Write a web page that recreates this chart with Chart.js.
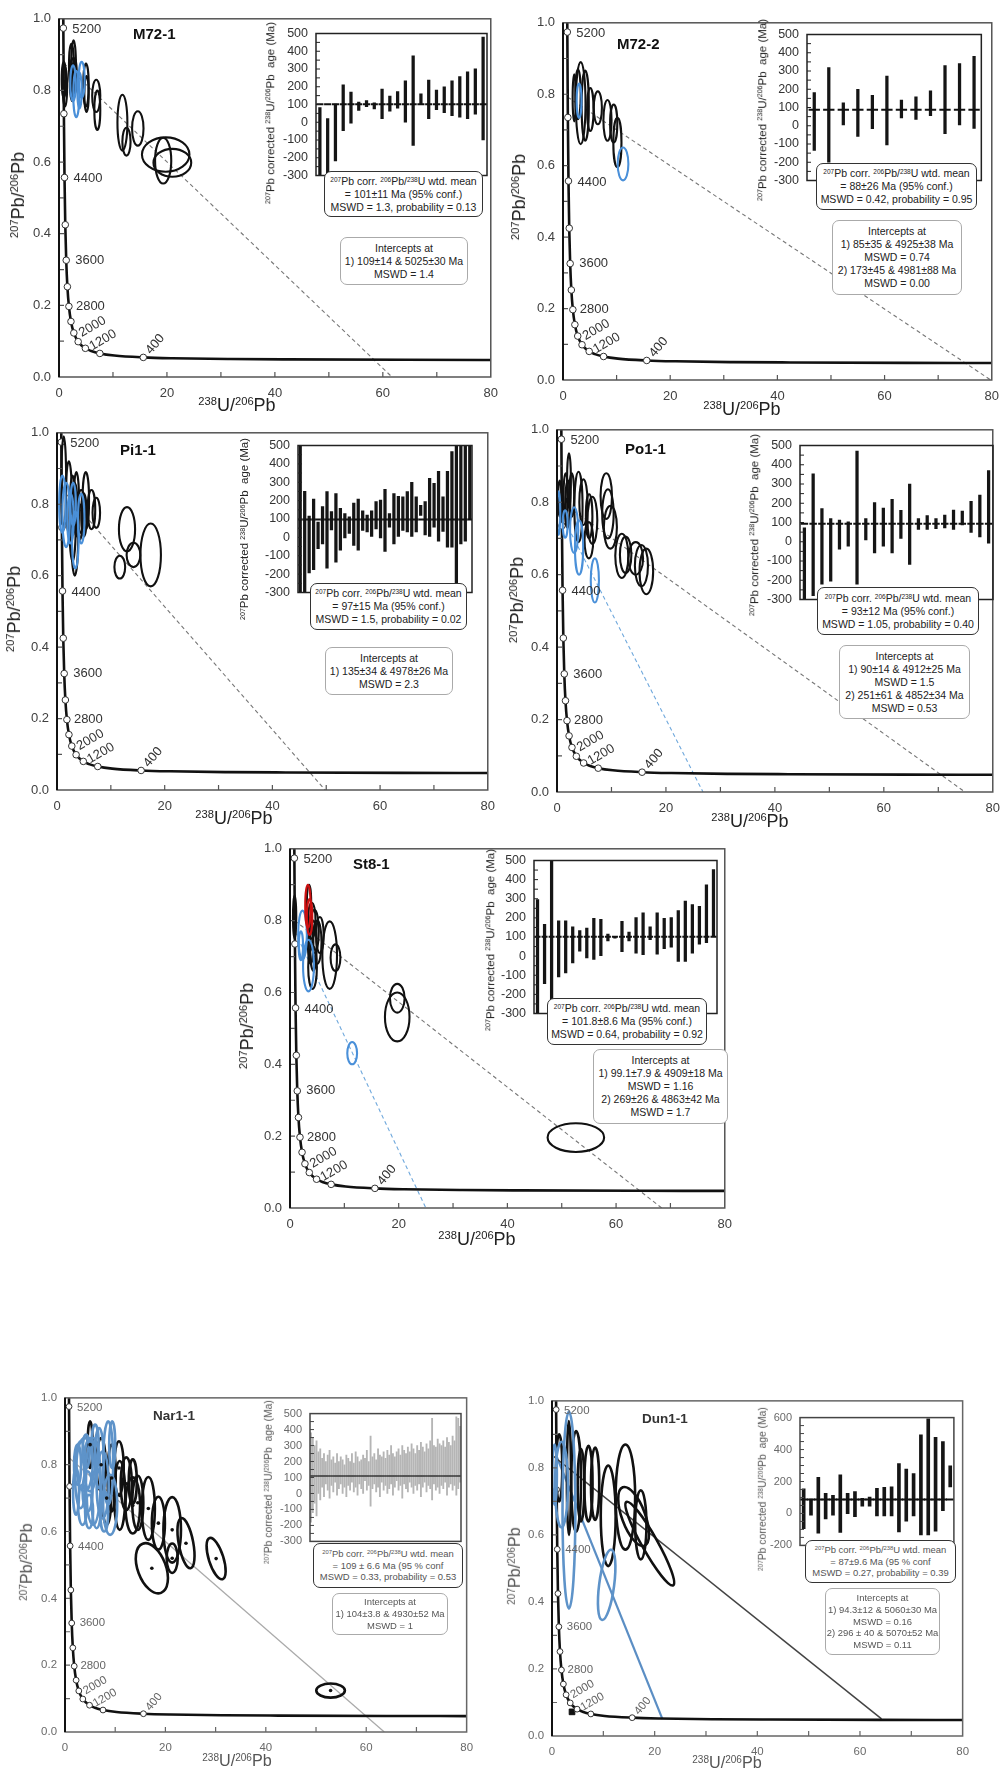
<!DOCTYPE html>
<html lang="en">
<head>
<meta charset="utf-8">
<title>Tera-Wasserburg concordia plots</title>
<script src="https://cdn.jsdelivr.net/npm/chart.js@4.4.1/dist/chart.umd.min.js"></script>
<style>
  body { margin: 0; background: #fff; }
  #page { position: relative; width: 1008px; height: 1780px; overflow: hidden; font-family: "Liberation Sans", Arial, sans-serif; }
  .panel { position: absolute; left: 0; top: 0; width: 1008px; height: 1780px; }
  .panel.soft { filter: blur(0.5px); }
  canvas { position: absolute; }
  .title { position: absolute; white-space: nowrap; line-height: 1; color: #222; }
  .name { position: absolute; font-weight: bold; white-space: nowrap; transform: translateY(-50%); color: #111; }
  .box { position: absolute; box-sizing: border-box; background: #fff; border: 1.5px solid #333; border-radius: 7px;
         display: flex; flex-direction: column; justify-content: center; align-items: center; white-space: nowrap; color: #222; }
  .box.icpt { border: 1.2px solid #aaa; }
  sup { font-size: 0.62em; line-height: 0; vertical-align: 0.5em; }
</style>
</head>
<body>
<div id="page"></div>
<script>
const FONT = '"Liberation Sans", Arial, sans-serif';

// Tera-Wasserburg concordia, ordered by increasing 238U/206Pb
const concordiaX = [0.763, 0.806, 0.905, 1.022, 1.163, 1.337, 1.556, 1.838, 2.217, 2.749, 3.550, 4.888, 5.959, 7.568, 10.25, 15.62, 20.99, 31.74, 42.48, 63.97, 80.08];
const concordiaY = [1.123, 0.974, 0.735, 0.557, 0.425, 0.326, 0.252, 0.197, 0.155, 0.123, 0.0987, 0.0801, 0.0725, 0.0658, 0.0599, 0.0547, 0.0523, 0.0501, 0.0491, 0.0480, 0.0476];

// age ticks on the concordia (Ma)
const markerAges = [5200, 4800, 4400, 4000, 3600, 3200, 2800, 2400, 2000, 1600, 1200, 800, 400];
const markerX = [0.806, 0.905, 1.022, 1.163, 1.337, 1.556, 1.838, 2.217, 2.749, 3.550, 4.888, 7.568, 15.62];
const markerY = [0.974, 0.735, 0.557, 0.425, 0.326, 0.252, 0.197, 0.155, 0.123, 0.0987, 0.0801, 0.0658, 0.0547];

// error ellipses: [238U/206Pb, 207Pb/206Pb, sx, sy, rho]
// discordia: [[x, y], [x, y]]
// inset ages: [low, high] in Ma

// ---- M72-1
const m721Black = [[0.9, 0.83, 0.4, 0.05, 0], [1.1, 0.81, 0.4, 0.055, 0], [2.3, 0.87, 0.45, 0.06, 0], [2.7, 0.86, 0.45, 0.08, 0],
  [2.5, 0.83, 0.5, 0.06, 0], [2.9, 0.84, 0.4, 0.05, 0], [5.0, 0.815, 0.5, 0.06, 0], [5.1, 0.79, 0.4, 0.05, 0],
  [6.9, 0.785, 0.75, 0.045, 0], [7.1, 0.745, 0.55, 0.055, 0], [11.75, 0.71, 0.92, 0.078, 0], [12.5, 0.657, 0.76, 0.039, 0],
  [14.6, 0.694, 1.06, 0.048, 0], [19.77, 0.621, 4.4, 0.048, 0], [19.3, 0.604, 1.5, 0.064, 0], [21.0, 0.598, 3.5, 0.039, 0]];
const m721Blue = [[2.6, 0.82, 0.5, 0.05, 0], [3.2, 0.79, 0.55, 0.065, 0], [4.2, 0.83, 0.55, 0.05, 0], [3.8, 0.8, 0.4, 0.05, 0]];
const m721Discordia = [[0.86, 0.876], [61.7, 0]];
const m721Ages = [[-340, 82], [-300, 20], [-218, 102], [-48, 211], [-5, 170], [66, 114], [88, 122], [75, 110], [20, 187], [62, 147], [80, 173],
  [0, 233], [-130, 374], [105, 160], [20, 237], [71, 181], [54, 199], [37, 233], [29, 258], [20, 284], [46, 301], [-99, 480]];
const m721Mean = 101;

// ---- M72-2
const m722Black = [[2.1, 0.79, 0.3, 0.066, 0], [2.8, 0.8, 0.5, 0.07, 0], [3.3, 0.775, 0.9, 0.115, 0], [4.15, 0.768, 0.67, 0.098, 0],
  [5.1, 0.757, 0.6, 0.06, 0], [6.5, 0.762, 0.76, 0.046, 0], [8.3, 0.727, 0.76, 0.057, 0], [9.46, 0.718, 0.67, 0.053, 0], [10.15, 0.665, 0.76, 0.069, 0]];
const m722Blue = [[3.0, 0.782, 0.45, 0.048, 0], [11.2, 0.605, 1.0, 0.046, 0]];
const m722Discordia = [[0.87, 0.792], [79.8, 0]];
const m722Ages = [[-135, 182], [-200, 319], [5, 126], [-58, 200], [-16, 167], [-105, 272], [43, 140], [35, 159], [55, 192], [-44, 330], [5, 340], [-15, 381]];
const m722Mean = 88;

// ---- Pi1-1
const pi11Black = [[1.25, 0.86, 0.45, 0.13, 0], [2.2, 0.82, 0.55, 0.1, 0], [2.9, 0.76, 0.6, 0.12, 0], [3.3, 0.73, 0.65, 0.13, 0],
  [3.6, 0.8, 0.5, 0.09, 0], [4.2, 0.75, 0.5, 0.05, 0], [4.5, 0.78, 0.7, 0.06, 0], [5.0, 0.77, 0.5, 0.06, 0], [5.35, 0.81, 0.6, 0.08, 0],
  [6.4, 0.785, 0.7, 0.055, 0], [7.3, 0.776, 0.7, 0.042, 0], [13.0, 0.73, 1.5, 0.062, 0], [14.2, 0.658, 1.27, 0.034, 0],
  [11.66, 0.624, 1.0, 0.032, 0], [17.4, 0.658, 1.9, 0.088, 0]];
const pi11Blue = [[1.0, 0.8, 0.6, 0.08, 0], [1.7, 0.77, 0.7, 0.09, 0], [2.5, 0.76, 0.6, 0.07, 0], [3.4, 0.7, 0.6, 0.08, 0],
  [4.5, 0.76, 0.6, 0.07, 0], [3.0, 0.8, 0.5, 0.06, 0]];
const pi11Discordia = [[0.86, 0.843], [49.8, 0]];
const pi11Ages = [[-320, 510], [-320, 250], [-193, 116], [-176, 208], [-61, 83], [-36, 167], [-168, 249], [40, 140], [-135, 239], [-69, 158],
  [-3, 129], [22, 112], [-44, 187], [-69, 208], [38, 145], [30, 121], [5, 145], [46, 195], [-3, 203], [-77, 261], [55, 129], [-36, 239],
  [5, 223], [38, 220], [30, 249], [5, 299], [30, 220], [120, 175], [13, 195], [5, 322], [55, 294], [-20, 360], [33, 220], [-53, 360],
  [-53, 467], [-320, 520], [-36, 520], [-20, 520], [96, 520]];
const pi11Mean = 97;

// ---- Po1-1
const po11Black = [[0.5, 0.81, 0.3, 0.05, 0], [1.6, 0.82, 0.4, 0.06, 0], [2.0, 0.8, 0.45, 0.06, 0], [2.2, 0.86, 0.35, 0.075, 0],
  [2.7, 0.82, 0.45, 0.06, 0], [1.9, 0.77, 0.4, 0.04, 0], [3.94, 0.787, 0.75, 0.097, 0], [4.85, 0.8, 0.75, 0.063, 0],
  [5.9, 0.761, 0.6, 0.061, 0], [5.85, 0.695, 0.8, 0.05, 0], [6.5, 0.75, 0.9, 0.065, 0], [9.05, 0.817, 1.05, 0.063, 0],
  [9.35, 0.768, 1.05, 0.068, 0], [9.8, 0.731, 1.2, 0.059, 0], [11.9, 0.652, 1.2, 0.061, 0], [12.6, 0.655, 1.05, 0.05, 0],
  [14.45, 0.645, 1.35, 0.045, 0], [15.5, 0.625, 1.2, 0.057, 0], [16.4, 0.609, 1.25, 0.063, 0]];
const po11Blue = [[0.3, 0.77, 0.3, 0.06, 0], [1.5, 0.74, 0.45, 0.038, 0], [3.15, 0.723, 0.75, 0.063, 0], [4.05, 0.675, 0.75, 0.075, 0],
  [6.95, 0.584, 0.75, 0.061, 0]];
const po11Discordia = [[0.88, 0.80], [74.9, 0]];
const po11DiscordiaBlue = [[0.89, 0.765], [26.8, 0]];
const po11Ages = [[-320, 72], [-280, 353], [-220, 172], [-205, 120], [-39, 112], [-23, 104], [-220, 471], [9, 120], [-58, 204], [-23, 175],
  [-58, 220], [17, 163], [-118, 299], [64, 120], [64, 136], [68, 120], [72, 139], [64, 164], [88, 159], [49, 210], [25, 242], [-7, 370]];
const po11Mean = 93;

// ---- St8-1
const st81Black = [[0.85, 0.81, 0.3, 0.06, 0], [3.5, 0.85, 0.4, 0.05, 0], [4.0, 0.8, 0.7, 0.05, 0], [4.5, 0.77, 0.8, 0.06, 0],
  [5.0, 0.74, 0.8, 0.06, 0], [4.3, 0.73, 0.6, 0.07, 0], [5.5, 0.76, 0.7, 0.05, 0], [3.8, 0.74, 0.5, 0.06, 0], [4.15, 0.67, 0.8, 0.06, 0],
  [7.3, 0.704, 1.35, 0.094, 0], [8.37, 0.697, 0.9, 0.037, 0], [19.73, 0.532, 2.26, 0.068, 0], [19.74, 0.584, 1.35, 0.04, 0],
  [52.6, 0.196, 5.2, 0.04, 0]];
const st81Red = [[3.3, 0.84, 0.5, 0.06, 0], [3.6, 0.81, 0.5, 0.05, 0]];
const st81Blue = [[2.3, 0.76, 0.8, 0.068, 0], [3.4, 0.675, 1.0, 0.072, 0], [2.0, 0.73, 0.4, 0.04, 0], [11.44, 0.431, 0.9, 0.031, 0]];
const st81Discordia = [[0.88, 0.80], [68.4, 0]];
const st81DiscordiaBlue = [[0.89, 0.77], [25.0, 0]];
const st81Ages = [[-320, 296], [-144, 166], [-250, 520], [-109, 185], [-88, 185], [-36, 153], [26, 134], [-9, 147], [-17, 198], [2, 193],
  [79, 115], [94, 102], [23, 182], [79, 126], [15, 201], [7, 226], [86, 153], [10, 226], [39, 198], [47, 201], [-28, 238], [-28, 288],
  [15, 269], [63, 261], [71, 373], [102, 452]];
const st81Mean = 101.8;

// ---- Nar1-1
const nar11Black = [[5.0, 0.86, 0.5, 0.07, 0], [7.2, 0.8, 0.9, 0.08, 0], [9.3, 0.76, 0.8, 0.1, 0], [8.3, 0.7, 0.9, 0.08, 0],
  [10.75, 0.79, 0.95, 0.08, 0], [10.9, 0.708, 1.1, 0.103, 0], [12.2, 0.743, 1.1, 0.079, 0], [13.5, 0.75, 0.8, 0.066, 0],
  [13.5, 0.678, 1.45, 0.084, 0], [14.5, 0.686, 1.1, 0.081, 0], [16.6, 0.669, 1.3, 0.094, 0], [18.6, 0.625, 1.3, 0.079, 0],
  [21.35, 0.605, 1.75, 0.098, 0], [24.1, 0.565, 1.7, 0.075, -0.5], [17.3, 0.49, 3.2, 0.075, -0.4], [21.35, 0.52, 1.1, 0.044, 0],
  [30.1, 0.519, 1.9, 0.062, -0.6], [52.9, 0.124, 2.85, 0.021, 0]];
const nar11Blue = [[2.5, 0.8, 0.7, 0.06, 0], [3.1, 0.77, 1.1, 0.1, 0], [3.9, 0.8, 1.6, 0.08, 0], [4.5, 0.72, 1.0, 0.06, 0],
  [5.0, 0.8, 1.2, 0.08, 0], [5.6, 0.75, 1.5, 0.13, 0], [6.3, 0.7, 1.0, 0.09, 0], [7.5, 0.74, 1.2, 0.1, 0],
  [8.6, 0.805, 1.0, 0.125, 0], [9.0, 0.68, 1.4, 0.09, 0], [2.2, 0.72, 0.6, 0.07, 0], [3.5, 0.68, 0.9, 0.06, 0],
  [6.8, 0.82, 0.9, 0.09, 0], [7.8, 0.66, 0.8, 0.06, 0], [4.8, 0.66, 0.8, 0.05, 0], [6.0, 0.86, 0.7, 0.06, 0],
  [9.4, 0.86, 0.6, 0.07, 0], [4.2, 0.84, 0.7, 0.05, 0]];
const nar11Discordia = [[0.87, 0.82], [63.6, 0]];
const nar11Ages = [[-180, 380], [-120, 350], [-60, 300], [-140, 330], [0, 260], [-40, 280], [40, 220], [-20, 250], [60, 200], [20, 240],
  [-30, 270], [50, 210], [10, 230], [70, 190], [-10, 250], [30, 200], [60, 230], [0, 210], [40, 180], [-20, 240],
  [50, 220], [20, 200], [70, 250], [10, 190], [40, 260], [-10, 230], [60, 200], [30, 210], [0, 240], [80, 220],
  [20, 270], [50, 200], [-80, 360], [30, 230], [60, 250], [10, 210], [40, 280], [-20, 240], [70, 230], [20, 260],
  [50, 220], [0, 270], [30, 240], [60, 300], [-10, 250], [40, 230], [80, 260], [20, 280], [50, 240], [-30, 300],
  [60, 270], [30, 250], [10, 290], [70, 260], [40, 310], [0, 280], [50, 250], [20, 300], [60, 270], [-20, 320],
  [40, 290], [70, 260], [10, 310], [50, 280], [30, 330], [-40, 470], [60, 300], [20, 290], [40, 340], [0, 310],
  [50, 300], [30, 330], [70, 290], [-10, 350], [40, 320], [60, 300], [20, 360], [50, 330], [-10, 480], [30, 470], [70, 420]];
const nar11Mean = 109;

// ---- Dun1-1
const dun11Black = [[1.4, 0.8, 0.6, 0.1, 0], [3.3, 0.77, 0.4, 0.17, 0], [4.7, 0.76, 0.95, 0.15, 0], [5.65, 0.748, 0.65, 0.108, 0],
  [7.1, 0.753, 0.8, 0.113, 0], [8.4, 0.753, 0.8, 0.108, 0], [10.95, 0.657, 1.45, 0.15, 0], [14.3, 0.713, 1.9, 0.157, 0],
  [15.9, 0.655, 3.0, 0.088, -0.6], [17.3, 0.63, 1.1, 0.103, 0], [19.05, 0.574, 4.75, 0.125, -0.93]];
const dun11Blue = [[0.5, 0.78, 0.45, 0.09, 0], [1.85, 0.75, 1.25, 0.128, 0], [3.3, 0.674, 1.25, 0.294, 0], [10.65, 0.451, 1.7, 0.105, 0.5]];
const dun11Discordia = [[0, 0.838], [64.2, 0.051]];
const dun11DiscordiaBlue = [[0.9, 0.834], [21.5, 0.051]];
const dun11Square = [[3.9, 0.072]];
const dun11Ages = [[-96, 154], [-11, 90], [-124, 226], [-35, 126], [-11, 113], [-119, 242], [-1, 126], [-20, 137], [46, 94], [46, 103],
  [-16, 158], [-16, 164], [-16, 166], [-115, 312], [-48, 278], [-16, 249], [-134, 492], [-134, 592], [-111, 477], [18, 450], [166, 298]];
const dun11Mean = 87;

const wtdHead = '<sup>207</sup>Pb corr. <sup>206</sup>Pb/<sup>238</sup>U wtd. mean';
const insetTitle = '<sup>207</sup>Pb corrected <sup>238</sup>U/<sup>206</sup>Pb&nbsp; age (Ma)';

const dashed = { color: '#777', width: 1.1, dash: [4, 3] };
const dashedBlue = { color: '#6fa8dc', width: 1.1, dash: [4, 3] };

const samples = [
  { name: 'M72-1', black: m721Black, blue: m721Blue, discordia: m721Discordia, ages: m721Ages, mean: m721Mean,
    wtd: ['= 101±11 Ma (95% conf.)', 'MSWD = 1.3, probability = 0.13'],
    icpt: ['Intercepts at', '1) 109±14 &amp; 5025±30 Ma', 'MSWD = 1.4'],
    plot: [59, 13, 440, 364], inset: [316, 26, 174, 157], box1: [324, 171, 159, 46], box2: [340, 237, 128, 48],
    nameAt: [133, 33], yTitle: [18, 195], xTitle: [237, 405], insetTitleAt: [271, 113], seg: 0.45 },
  { name: 'M72-2', black: m722Black, blue: m722Blue, discordia: m722Discordia, ages: m722Ages, mean: m722Mean,
    wtd: ['= 88±26 Ma (95% conf.)', 'MSWD = 0.42, probability = 0.95'],
    icpt: ['Intercepts at', '1) 85±35 &amp; 4925±38 Ma', 'MSWD = 0.74', '2) 173±45 &amp; 4981±88 Ma', 'MSWD = 0.00'],
    plot: [563, 17, 437, 363], inset: [807, 27, 179, 161], box1: [816, 163, 161, 47], box2: [832, 220, 130, 75],
    nameAt: [617, 43], yTitle: [519, 197], xTitle: [742, 409], insetTitleAt: [763, 110], seg: 0.38 },
  { name: 'Pi1-1', black: pi11Black, blue: pi11Blue, discordia: pi11Discordia, ages: pi11Ages, mean: pi11Mean,
    wtd: ['= 97±15 Ma (95% conf.)', 'MSWD = 1.5, probability = 0.02'],
    icpt: ['Intercepts at', '1) 135±34 &amp; 4978±26 Ma', 'MSWD = 2.3'],
    plot: [57, 427, 439, 363], inset: [298, 438, 177, 162], box1: [310, 583, 157, 47], box2: [325, 647, 128, 48],
    nameAt: [120, 449], yTitle: [14, 609], xTitle: [234, 818], insetTitleAt: [245, 529], seg: 0.5 },
  { name: 'Po1-1', black: po11Black, blue: po11Blue, discordia: po11Discordia, discordiaBlue: po11DiscordiaBlue, ages: po11Ages, mean: po11Mean,
    wtd: ['= 93±12 Ma (95% conf.)', 'MSWD = 1.05, probability = 0.40'],
    icpt: ['Intercepts at', '1) 90±14 &amp; 4912±25 Ma', 'MSWD = 1.5', '2) 251±61 &amp; 4852±34 Ma', 'MSWD = 0.53'],
    plot: [557, 424, 444, 368], inset: [800, 438, 196, 169], box1: [817, 587, 162, 48], box2: [839, 645, 131, 74],
    nameAt: [625, 448], yTitle: [517, 600], xTitle: [750, 821], insetTitleAt: [755, 525], seg: 0.42 },
  { name: 'St8-1', black: st81Black, blue: st81Blue, red: st81Red, discordia: st81Discordia, discordiaBlue: st81DiscordiaBlue, ages: st81Ages, mean: st81Mean,
    wtd: ['= 101.8±8.6 Ma (95% conf.)', 'MSWD = 0.64, probability = 0.92'],
    icpt: ['Intercepts at', '1) 99.1±7.9 &amp; 4909±18 Ma', 'MSWD = 1.16', '2) 269±26 &amp; 4863±42 Ma', 'MSWD = 1.7'],
    plot: [290, 843, 443, 365], inset: [534, 853, 186, 168], box1: [547, 998, 160, 47], box2: [593, 1049, 135, 75],
    nameAt: [353, 863], yTitle: [247, 1026], xTitle: [477, 1239], insetTitleAt: [491, 940], seg: 0.42 },
  { name: 'Nar1-1', black: nar11Black, blue: nar11Blue, discordia: nar11Discordia, ages: nar11Ages, mean: nar11Mean,
    wtd: ['= 109 ± 6.6 Ma (95 % conf', 'MSWD = 0.33, probability = 0.53'],
    icpt: ['Intercepts at', '1) 104±3.8 &amp; 4930±52 Ma', 'MSWD = 1'],
    plot: [65, 1393, 409, 339], inset: [310, 1407, 154, 141], box1: [313, 1543, 150, 45], box2: [332, 1593, 116, 42],
    nameAt: [153, 1415], yTitle: [26, 1562], xTitle: [237, 1760], insetTitleAt: [269, 1482], seg: 0.6,
    soft: true, dots: true, solidLine: { color: '#aaa', width: 1.3 }, greyBars: true },
  { name: 'Dun1-1', black: dun11Black, blue: dun11Blue, discordia: dun11Discordia, discordiaBlue: dun11DiscordiaBlue, square: dun11Square,
    ages: dun11Ages, mean: dun11Mean,
    wtd: ['= 87±9.6 Ma (95 % conf', 'MSWD = 0.27, probability = 0.39'],
    icpt: ['Intercepts at', '1) 94.3±12 &amp; 5060±30 Ma', 'MSWD = 0.16', '2) 296 ± 40 &amp; 5070±52 Ma', 'MSWD = 0.11'],
    plot: [552, 1396, 418, 340], inset: [800, 1411, 157, 141], box1: [805, 1540, 151, 43], box2: [825, 1588, 115, 67],
    nameAt: [642, 1418], yTitle: [514, 1566], xTitle: [727, 1762], insetTitleAt: [763, 1489], seg: 0.55,
    soft: true, solidLine: { color: '#444', width: 1.5 }, solidBlue: { color: '#5b8ec4', width: 2.2 },
    ageRange: [-200, 600, 200] },
];

// offsets (px) and rotation (deg) of the labelled concordia ages
const ageLabelStyle = { 5200: [9, 1, 0], 4400: [9, 1, 0], 3600: [9, 0, 0], 2800: [7, 0, 0], 2000: [6, 1, -30], 1200: [5, -1, -30], 400: [5, -5, -50] };

const page = document.getElementById('page');

function makeCanvas(parent, l, t, w, h) {
  const c = document.createElement('canvas');
  c.width = w;
  c.height = h;
  c.style.cssText = `left:${l}px;top:${t}px;width:${w}px;height:${h}px`;
  parent.appendChild(c);
  return c;
}

function addHtml(parent, cls, html, css) {
  const d = document.createElement('div');
  d.className = cls;
  d.innerHTML = html;
  d.style.cssText = css;
  parent.appendChild(d);
  return d;
}

function lineSet(points, style) {
  return {
    data: points.map(([x, y]) => ({ x, y })),
    showLine: true,
    borderColor: style.color,
    borderWidth: style.width,
    borderDash: style.dash || [],
    pointRadius: 0,
  };
}

function ellipsePath(ctx, xs, ys, e) {
  const [cx, cy, sx, sy, rho] = e;
  const px = xs.getPixelForValue(cx);
  const py = ys.getPixelForValue(cy);
  const a = Math.abs(xs.getPixelForValue(cx + sx) - px);
  const b = Math.abs(ys.getPixelForValue(cy + sy) - py);
  // covariance in screen space (y points down, so the correlation flips)
  const c = -rho * a * b;
  const m = (a * a + b * b) / 2;
  const d = Math.sqrt(((a * a - b * b) / 2) ** 2 + c * c);
  const r1 = Math.sqrt(m + d);
  const r2 = Math.sqrt(Math.max(m - d, 0.05));
  const theta = 0.5 * Math.atan2(2 * c, a * a - b * b);
  ctx.beginPath();
  ctx.ellipse(px, py, r1, r2, theta, 0, 2 * Math.PI);
}

function ellipsePlugin(s, fs) {
  return {
    id: 'ellipses',
    afterDatasetsDraw(chart) {
      const { ctx, chartArea: a, scales: { x, y } } = chart;
      ctx.save();
      ctx.beginPath();
      ctx.rect(a.left, a.top, a.right - a.left, a.bottom - a.top);
      ctx.clip();
      ctx.lineWidth = s.soft ? 2.6 : 2.1;
      const groups = [
        [s.black, '#111'],
        [s.blue || [], s.soft ? '#5e93c9' : '#4a90d9'],
        [s.red || [], '#cc1010'],
      ];
      groups.forEach(([list, color]) => {
        ctx.strokeStyle = color;
        list.forEach((e) => {
          ellipsePath(ctx, x, y, e);
          ctx.stroke();
        });
      });
      if (s.dots) {
        ctx.fillStyle = '#111';
        s.black.forEach(([cx, cy]) => {
          ctx.beginPath();
          ctx.arc(x.getPixelForValue(cx), y.getPixelForValue(cy), 1.8, 0, 2 * Math.PI);
          ctx.fill();
        });
      }
      ctx.restore();

      // concordia age labels
      ctx.save();
      ctx.fillStyle = s.soft ? '#666' : '#333';
      ctx.font = `${13 * fs}px ${FONT}`;
      ctx.textBaseline = 'middle';
      ctx.textAlign = 'left';
      markerAges.forEach((age, i) => {
        const st = ageLabelStyle[age];
        if (!st) return;
        ctx.save();
        ctx.translate(x.getPixelForValue(markerX[i]) + st[0] * fs, y.getPixelForValue(markerY[i]) + st[1] * fs);
        ctx.rotate((st[2] * Math.PI) / 180);
        ctx.fillText(String(age), 0, 0);
        ctx.restore();
      });
      ctx.restore();
    },
  };
}

function framePlugin(s) {
  return {
    id: 'frame',
    afterDraw(chart) {
      const { ctx, chartArea: a, scales: { x, y } } = chart;
      ctx.save();
      ctx.strokeStyle = s.soft ? '#666' : '#555';
      ctx.lineWidth = 1.5;
      ctx.strokeRect(a.left, a.top, a.right - a.left, a.bottom - a.top);
      ctx.lineWidth = 1.2;
      ctx.beginPath();
      for (let i = 1; i < 8; i++) {
        const px = x.getPixelForValue(i * 10);
        ctx.moveTo(px, a.bottom);
        ctx.lineTo(px, a.bottom - 5);
      }
      for (let i = 1; i < 10; i++) {
        const py = y.getPixelForValue(i / 10);
        ctx.moveTo(a.left, py);
        ctx.lineTo(a.left + 5, py);
      }
      ctx.stroke();
      ctx.strokeStyle = '#111';
      ctx.lineWidth = 2;
      ctx.beginPath();
      ctx.moveTo(a.left, a.top);
      ctx.lineTo(a.left, a.bottom);
      ctx.stroke();
      ctx.restore();
    },
  };
}

function drawConcordia(s, parent) {
  const [l, t, w, h] = s.plot;
  const fs = s.soft ? 0.88 : 1;
  const ink = s.soft ? '#6a6a6a' : '#404040';
  const canvas = makeCanvas(parent, l - 48, t - 10, w + 56, h + 36);

  const datasets = [
    {
      data: markerX.map((x, i) => ({ x, y: markerY[i] })),
      pointRadius: 3.3 * fs,
      pointBackgroundColor: '#fff',
      pointBorderColor: '#333',
      pointBorderWidth: 1,
    },
  ];
  if (s.square) {
    datasets.push({
      data: s.square.map(([x, y]) => ({ x, y })),
      pointStyle: 'rect',
      pointRadius: 4,
      pointBackgroundColor: '#111',
      pointBorderColor: '#111',
    });
  }
  datasets.push({
    data: concordiaX.map((x, i) => ({ x, y: concordiaY[i] })),
    showLine: true,
    cubicInterpolationMode: 'monotone',
    borderColor: '#111',
    borderWidth: 2.6,
    pointRadius: 0,
  });
  if (s.discordia) datasets.push(lineSet(s.discordia, s.solidLine || dashed));
  if (s.discordiaBlue) datasets.push(lineSet(s.discordiaBlue, s.solidBlue || dashedBlue));

  new Chart(canvas, {
    type: 'scatter',
    data: { datasets },
    options: {
      animation: false,
      responsive: false,
      events: [],
      layout: { padding: { top: 10, right: 8 } },
      plugins: { legend: { display: false }, tooltip: { enabled: false } },
      scales: {
        x: {
          type: 'linear',
          min: 0,
          max: 80,
          grid: { display: false, drawTicks: false },
          border: { display: false },
          ticks: { stepSize: 20, color: ink, font: { family: FONT, size: 13 * fs }, padding: 9, maxRotation: 0 },
          afterFit: (sc) => { sc.height = 26; },
        },
        y: {
          type: 'linear',
          min: 0,
          max: 1,
          grid: { display: false, drawTicks: false },
          border: { display: false },
          ticks: { stepSize: 0.2, color: ink, font: { family: FONT, size: 13 * fs }, padding: 8, callback: (v) => v.toFixed(1) },
          afterFit: (sc) => { sc.width = 48; },
        },
      },
    },
    plugins: [ellipsePlugin(s, fs), framePlugin(s)],
  });
}

function insetFrame(s, min, max) {
  return {
    id: 'insetFrame',
    afterDraw(chart) {
      const { ctx, chartArea: a, scales: { y } } = chart;
      ctx.save();
      ctx.strokeStyle = s.soft ? '#444' : '#222';
      ctx.lineWidth = 1.5;
      ctx.strokeRect(a.left, a.top, a.right - a.left, a.bottom - a.top);
      ctx.lineWidth = 1;
      ctx.beginPath();
      for (let v = min + 50; v < max; v += 50) {
        const py = y.getPixelForValue(v);
        ctx.moveTo(a.left, py);
        ctx.lineTo(a.left + 4, py);
      }
      ctx.stroke();
      ctx.restore();
    },
  };
}

function drawInset(s, parent) {
  const [l, t, w, h] = s.inset;
  const fs = s.soft ? 0.88 : 1;
  const [min, max, step] = s.ageRange || [-300, 500, 100];
  const n = s.ages.length;
  const canvas = makeCanvas(parent, l - 42, t - 8, w + 45, h + 16);

  new Chart(canvas, {
    type: 'bar',
    data: {
      labels: s.ages.map((_, i) => i + 1),
      datasets: [
        {
          type: 'line',
          data: s.ages.map(() => s.mean),
          showLine: false,
          pointStyle: 'line',
          pointRadius: (w / n) * s.seg,
          pointBorderColor: s.greyBars ? '#555' : '#111',
          pointBorderWidth: 2,
          clip: 0,
        },
        {
          data: s.ages,
          backgroundColor: s.greyBars ? '#b5b5b5' : '#151515',
          barThickness: s.greyBars ? 1.2 : s.soft ? 3 : 2.6,
          clip: 0,
        },
      ],
    },
    options: {
      animation: false,
      responsive: false,
      events: [],
      layout: { padding: { top: 8, bottom: 8, right: 3 } },
      plugins: { legend: { display: false }, tooltip: { enabled: false } },
      scales: {
        x: { display: false },
        y: {
          min,
          max,
          grid: { display: false, drawTicks: false },
          border: { display: false },
          ticks: { stepSize: step, color: s.soft ? '#6a6a6a' : '#333', font: { family: FONT, size: 12.5 * fs }, padding: 8 },
          afterFit: (sc) => { sc.width = 42; },
        },
      },
    },
    plugins: [insetFrame(s, min, max)],
  });
}

function drawTexts(s, parent) {
  const fs = s.soft ? 0.9 : 1;
  const col = s.soft ? '#555' : '#222';
  const sup = (n) => `<sup>${n}</sup>`;

  addHtml(parent, 'name', s.name,
    `left:${s.nameAt[0]}px;top:${s.nameAt[1]}px;font-size:${15 * fs}px;color:${s.soft ? '#333' : '#111'}`);

  addHtml(parent, 'title', `${sup(207)}Pb/${sup(206)}Pb`,
    `left:${s.yTitle[0]}px;top:${s.yTitle[1]}px;font-size:${18 * fs}px;color:${col};transform:translate(-50%,-50%) rotate(-90deg)`);
  addHtml(parent, 'title', `${sup(238)}U/${sup(206)}Pb`,
    `left:${s.xTitle[0]}px;top:${s.xTitle[1]}px;font-size:${18 * fs}px;color:${col};transform:translate(-50%,-50%)`);
  addHtml(parent, 'title', insetTitle,
    `left:${s.insetTitleAt[0]}px;top:${s.insetTitleAt[1]}px;font-size:${11.5 * fs}px;color:${col};transform:translate(-50%,-50%) rotate(-90deg)`);

  const [b1l, b1t, b1w, b1h] = s.box1;
  addHtml(parent, 'box', [wtdHead].concat(s.wtd).map((ln) => `<div>${ln}</div>`).join(''),
    `left:${b1l}px;top:${b1t}px;width:${b1w}px;height:${b1h}px;font-size:${10.5 * fs}px;line-height:${13 * fs}px;color:${col}`);
  const [b2l, b2t, b2w, b2h] = s.box2;
  addHtml(parent, 'box icpt', s.icpt.map((ln) => `<div>${ln}</div>`).join(''),
    `left:${b2l}px;top:${b2t}px;width:${b2w}px;height:${b2h}px;font-size:${10.5 * fs}px;line-height:${13 * fs}px;color:${col}`);
}

samples.forEach((s) => {
  const panel = document.createElement('div');
  panel.className = s.soft ? 'panel soft' : 'panel';
  page.appendChild(panel);
  drawConcordia(s, panel);
  drawInset(s, panel);
  drawTexts(s, panel);
});
</script>
</body>
</html>
